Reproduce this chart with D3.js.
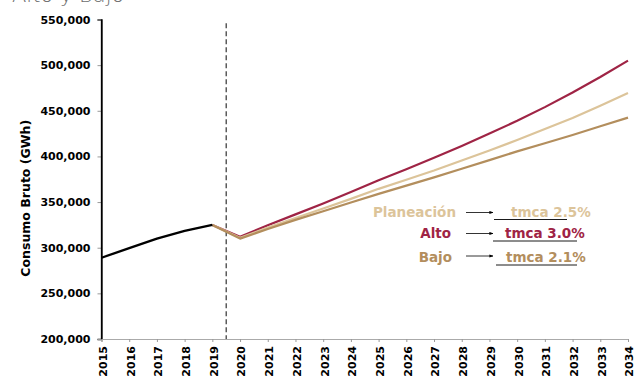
<!DOCTYPE html>
<html>
<head>
<meta charset="utf-8">
<script src="https://cdn.jsdelivr.net/npm/d3@7"></script>
<style>
  html, body { margin: 0; padding: 0; background: #fff; }
  svg { display: block; }
  text { font-family: "DejaVu Sans", sans-serif; }
</style>
</head>
<body>
<svg id="chart" width="640" height="377"></svg>
<script>
// Years on the horizontal axis
const years = d3.range(2015, 2035);

// Historic gross consumption (GWh)
const historicYears = [2015, 2016, 2017, 2018, 2019];
const historicValues = [289000, 299500, 310000, 318500, 325000];

// Projected scenarios, starting at the last historic year
const projYears = [2019, 2020, 2021, 2022, 2023, 2024, 2025, 2026, 2027, 2028, 2029, 2030, 2031, 2032, 2033, 2034];
const altoValues = [325000, 312000, 324500, 336500, 348500, 361000, 374000, 386000, 398500, 411500, 425000, 439000, 454000, 470000, 487000, 505000];
const planeacionValues = [325000, 311000, 322000, 332500, 343000, 353500, 364500, 374500, 384500, 395500, 406500, 418000, 430000, 442000, 455500, 469500];
const bajoValues = [325000, 310000, 320500, 330500, 340000, 349500, 359000, 368000, 377000, 386500, 396000, 405500, 414500, 423500, 433000, 442500];

// Y axis tick values
const yTicks = [200000, 250000, 300000, 350000, 400000, 450000, 500000, 550000];

// Legend entries: scenario name and compound annual growth rate
const legendNames = ["Planeación", "Alto", "Bajo"];
const legendRates = ["tmca 2.5%", "tmca 3.0%", "tmca 2.1%"];
const legendColors = ["#dcc49a", "#9f2445", "#b38e5d"];

const svg = d3.select("#chart");
const margin = { left: 101.5, right: 12, top: 19.5, bottom: 38 };
const W = 640, H = 377;

const x = d3.scaleLinear().domain([2015, 2034]).range([margin.left, W - margin.right]);
const y = d3.scaleLinear().domain([200000, 550000]).range([H - margin.bottom, margin.top]);

// Heading, running off the top edge
svg.append("text")
  .attr("x", 12).attr("y", 2)
  .attr("font-family", "Lato, sans-serif")
  .attr("font-weight", 300)
  .attr("font-size", 21)
  .attr("fill", "#6f6f6f")
  .text("Alto y Bajo");

// Y axis
const yAxis = svg.append("g")
  .attr("transform", `translate(${margin.left},0)`)
  .call(d3.axisLeft(y).tickValues(yTicks).tickSize(4).tickPadding(7).tickFormat(d3.format(",")));
yAxis.select(".domain").attr("stroke", "#000").attr("stroke-width", 1.3);
yAxis.selectAll(".tick line").attr("stroke", "#999");
yAxis.selectAll("text")
  .attr("font-size", 11).attr("font-weight", "bold").attr("fill", "#000");

// X axis
const xAxis = svg.append("g")
  .attr("transform", `translate(0,${y(200000)})`)
  .call(d3.axisBottom(x).tickValues(years).tickSize(3).tickFormat(d3.format("d")));
xAxis.select(".domain").attr("stroke", "#aaa").attr("stroke-width", 1);
xAxis.selectAll(".tick line").attr("stroke", "#999");
xAxis.selectAll("text")
  .attr("font-size", 11).attr("font-weight", "bold").attr("fill", "#000")
  .attr("text-anchor", "end")
  .attr("transform", "rotate(-90)")
  .attr("x", -7).attr("y", 1).attr("dy", "0.35em");

// Redraw the y domain line on top of the x axis
svg.append("line")
  .attr("x1", margin.left).attr("x2", margin.left)
  .attr("y1", y(550000)).attr("y2", y(200000))
  .attr("stroke", "#000").attr("stroke-width", 1.3);

// Y axis title
svg.append("text")
  .attr("transform", `translate(30,${(y(200000) + y(550000)) / 2 + 19}) rotate(-90)`)
  .attr("text-anchor", "middle")
  .attr("font-size", 12.5).attr("font-weight", "bold").attr("fill", "#000")
  .text("Consumo Bruto (GWh)");

// Dashed divider between historic and projected years
svg.append("line")
  .attr("x1", x(2019.5)).attr("x2", x(2019.5))
  .attr("y1", y(546000)).attr("y2", y(200000))
  .attr("stroke", "#333").attr("stroke-width", 1.2)
  .attr("stroke-dasharray", "5,3");

const line = d3.line().x(d => x(d[0])).y(d => y(d[1]));

function drawSeries(xs, vs, color, width) {
  svg.append("path")
    .datum(xs.map((yr, i) => [yr, vs[i]]))
    .attr("d", line)
    .attr("fill", "none")
    .attr("stroke", color)
    .attr("stroke-width", width)
    .attr("stroke-linejoin", "round");
}

drawSeries(projYears, altoValues, legendColors[1], 2.2);
drawSeries(projYears, planeacionValues, legendColors[0], 2.2);
drawSeries(projYears, bajoValues, legendColors[2], 2.2);
drawSeries(historicYears, historicValues, "#000", 2.3);

// Arrow marker for legend
svg.append("defs").append("marker")
  .attr("id", "arrow")
  .attr("viewBox", "0 0 10 10")
  .attr("refX", 9).attr("refY", 5)
  .attr("markerWidth", 5).attr("markerHeight", 5)
  .attr("orient", "auto")
  .append("path").attr("d", "M0,1 L10,5 L0,9 Z").attr("fill", "#000");

// Legend
const legendRows = [
  { nameEnd: 456, ty: 217, ay: 212.5, rateX: 511, uline: [494, 567], uy: 219.5 },
  { nameEnd: 451, ty: 238, ay: 233.5, rateX: 505, uline: [493, 577], uy: 241 },
  { nameEnd: 452, ty: 262, ay: 256, rateX: 506, uline: [496, 577], uy: 265 }
];
legendRows.forEach((r, i) => {
  svg.append("text")
    .attr("x", r.nameEnd).attr("y", r.ty)
    .attr("text-anchor", "end")
    .attr("font-size", 13.5).attr("font-weight", "bold")
    .attr("fill", legendColors[i])
    .text(legendNames[i]);
  svg.append("line")
    .attr("x1", 466).attr("x2", 493)
    .attr("y1", r.ay).attr("y2", r.ay)
    .attr("stroke", "#000").attr("stroke-width", 0.8)
    .attr("marker-end", "url(#arrow)");
  svg.append("text")
    .attr("x", r.rateX).attr("y", r.ty)
    .attr("font-size", 13.5).attr("font-weight", "bold")
    .attr("fill", legendColors[i])
    .text(legendRates[i]);
  svg.append("line")
    .attr("x1", r.uline[0]).attr("x2", r.uline[1])
    .attr("y1", r.uy).attr("y2", r.uy)
    .attr("stroke", "#000").attr("stroke-width", 0.9);
});
</script>
</body>
</html>
